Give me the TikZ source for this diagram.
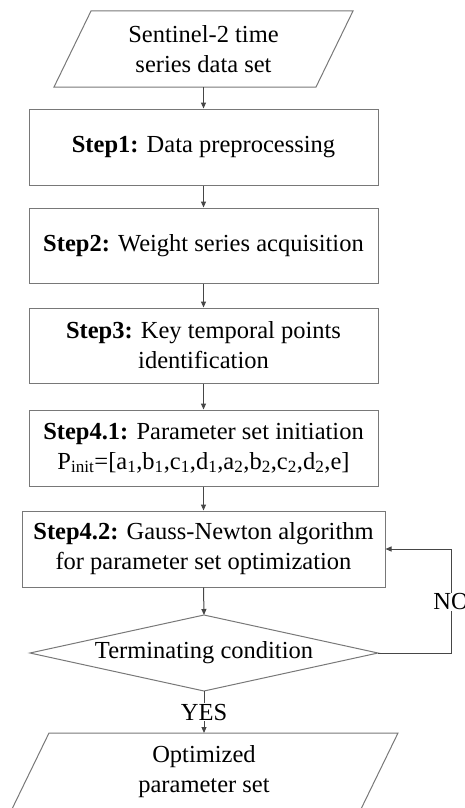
\documentclass[tikz,border=0pt]{standalone}
\usepackage{fontspec}
\setmainfont{Liberation Serif}
\usetikzlibrary{arrows.meta,calc}
\definecolor{boxline}{RGB}{120,120,120}
\definecolor{arrowline}{RGB}{70,70,70}
\begin{document}
\begin{tikzpicture}[x=1pt,y=-1pt,
  txt/.style={align=center,inner sep=0pt,font=\fontsize{24.5}{30}\selectfont},
  stepbox/.style={draw=boxline,line width=1pt,minimum height=76pt,inner sep=0pt,align=center,font=\fontsize{24.5}{30}\selectfont},
  shapeline/.style={draw=boxline,line width=1pt,line join=miter},
  conn/.style={draw=arrowline,line width=1pt,-{Triangle[length=6pt,width=5pt]}},
  lbl/.style={fill=white,inner sep=1pt,font=\fontsize{24.5}{30}\selectfont}]
\useasboundingbox (0,0) rectangle (465,808);
\clip (0,0) rectangle (465,808);
% input parallelogram
\coordinate (inTL) at (91,11); \coordinate (inTR) at (353,11);
\coordinate (inBR) at (316,87); \coordinate (inBL) at (54,87);
\draw[shapeline] (inTL) -- (inTR) -- (inBR) -- (inBL) -- cycle;
\node[txt] (in) at (203.5,49) {Sentinel-2 time\\series data set};
\coordinate (inB) at (203.5,87);
% steps
\node[stepbox,minimum width=349pt] (s1) at (203.5,147) {\textbf{Step1:} Data preprocessing};
\node[stepbox,minimum width=349pt,minimum height=75pt] (s2) at (203.5,245.5) {\textbf{Step2:} Weight series acquisition};
\node[stepbox,minimum width=349pt,minimum height=75pt] (s3) at (203.5,345.5) {\textbf{Step3:} Key temporal points\\identification};
\node[stepbox,minimum width=349pt] (s41) at (203.5,448) {\textbf{Step4.1:} Parameter set initiation\\P\textsubscript{init}=[a\textsubscript{1},b\textsubscript{1},c\textsubscript{1},d\textsubscript{1},a\textsubscript{2},b\textsubscript{2},c\textsubscript{2},d\textsubscript{2},e]};
\node[stepbox,minimum width=363pt] (s42) at (203.5,549) {\textbf{Step4.2:} Gauss-Newton algorithm\\for parameter set optimization};
% diamond
\coordinate (dT) at (204,615); \coordinate (dR) at (378,653);
\coordinate (dB) at (204,691); \coordinate (dL) at (30,653);
\draw[shapeline] (dT) -- (dR) -- (dB) -- (dL) -- cycle;
\node[txt] (dia) at (204,653) {Terminating condition};
% output parallelogram
\coordinate (outTL) at (49,733); \coordinate (outTR) at (398,733);
\coordinate (outBR) at (361,809); \coordinate (outBL) at (12,809);
\draw[shapeline] (outTL) -- (outTR) -- (outBR) -- (outBL) -- cycle;
\node[txt] (out) at (204,772) {Optimized\\parameter set};
\coordinate (outT) at (204,733);
% connectors
\draw[conn] (inB) -- (s1.north);
\draw[conn] (s1.south) -- (s2.north);
\draw[conn] (s2.south) -- (s3.north);
\draw[conn] (s3.south) -- (s41.north);
\draw[conn] (s41.south) -- (s42.north);
\draw[conn] (s42.south) -- (dT);
\draw[conn] (dB) -- node[lbl,pos=0.5] (yes) {YES} (outT);
\coordinate (loopB) at (451,653);
\coordinate (loopT) at (451,549);
\draw[conn] (dR) -- (loopB) -- node[lbl,pos=0.5,yshift=-1pt] (no) {NO} (loopT) -- (s42.east);
\end{tikzpicture}
\end{document}
